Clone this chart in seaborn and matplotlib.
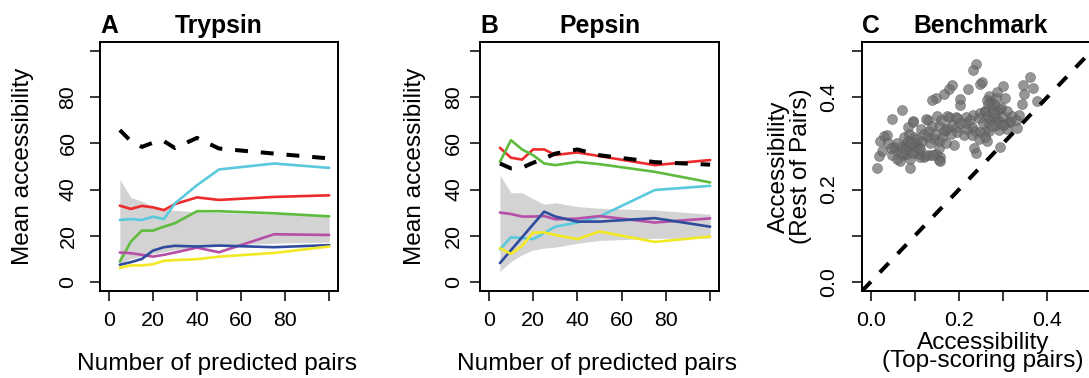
import matplotlib
matplotlib.use("Agg")
import matplotlib.pyplot as plt
import seaborn as sns
import numpy as np
import pandas as pd

# ---------------- data ----------------
n_pairs = [5, 10, 15, 20, 25, 30, 40, 50, 75, 100]
series_names = ["red", "cyan", "green", "magenta", "blue", "yellow"]
series_colors = ["#EE2B2B", "#5BC9DD", "#5FBB3E", "#B64FA8", "#2F4C9E", "#F3E824"]

tryp_black = [65.8, 61.0, 58.5, 60.3, 61.0, 58.0, 62.4, 57.8, 55.6, 53.5]
tryp_red = [33.0, 31.6, 32.9, 32.3, 31.1, 33.7, 36.6, 35.5, 36.8, 37.5]
tryp_cyan = [26.8, 27.2, 26.8, 28.2, 27.2, 34.0, 41.9, 48.7, 51.3, 49.4]
tryp_green = [8.8, 17.4, 22.2, 22.2, 23.9, 25.4, 30.6, 30.6, 29.7, 28.4]
tryp_magenta = [12.7, 12.4, 11.7, 10.9, 11.7, 12.7, 14.8, 12.8, 20.6, 20.3]
tryp_blue = [7.4, 8.5, 9.9, 13.5, 15.0, 15.6, 15.3, 15.7, 15.0, 15.9]
tryp_yellow = [6.1, 7.1, 7.1, 7.6, 9.1, 9.4, 9.8, 10.9, 12.5, 15.3]
tryp_band_hi = [44.5, 36.5, 35.0, 32.5, 31.5, 31.0, 30.3, 30.0, 29.3, 28.8]
tryp_band_lo = [8.0, 10.0, 11.0, 12.0, 13.0, 13.8, 15.0, 15.8, 16.7, 17.2]

peps_black = [51.3, 49.2, 49.5, 51.6, 53.5, 55.6, 57.4, 54.9, 51.9, 50.8]
peps_red = [58.1, 53.8, 53.0, 57.4, 57.4, 55.0, 56.1, 54.5, 50.6, 52.8]
peps_cyan = [14.1, 19.3, 19.0, 18.5, 21.1, 23.9, 25.7, 28.3, 39.8, 41.6]
peps_green = [52.0, 61.4, 57.4, 54.9, 51.3, 50.6, 52.0, 51.0, 47.7, 43.1]
peps_magenta = [30.0, 29.4, 28.3, 28.3, 28.5, 27.1, 27.4, 28.5, 25.7, 27.5]
peps_blue = [8.1, 13.7, 19.3, 24.9, 30.4, 28.3, 26.1, 26.1, 27.6, 23.9]
peps_yellow = [14.6, 12.1, 15.6, 21.3, 21.4, 20.3, 18.5, 21.8, 17.3, 19.6]
peps_band_hi = [46.3, 38.6, 38.6, 36.0, 33.6, 34.3, 32.6, 31.9, 31.1, 29.3]
peps_band_lo = [4.5, 8.8, 11.7, 13.8, 14.6, 15.0, 16.7, 17.9, 18.9, 18.9]

bench_top = [0.239, 0.231, 0.252, 0.248, 0.361, 0.184, 0.178, 0.220, 0.299, 0.345,
             0.369, 0.348, 0.287, 0.305, 0.269, 0.166, 0.148, 0.138, 0.202, 0.202,
             0.263, 0.273, 0.343, 0.376, 0.071, 0.049, 0.096, 0.130, 0.151, 0.178,
             0.196, 0.216, 0.232, 0.248, 0.260, 0.275, 0.286, 0.293, 0.284, 0.290,
             0.271, 0.316, 0.302, 0.291, 0.265, 0.337, 0.331, 0.310, 0.260, 0.269,
             0.030, 0.036, 0.021, 0.075, 0.087, 0.098, 0.113, 0.132, 0.139, 0.154,
             0.166, 0.173, 0.181, 0.196, 0.211, 0.218, 0.229, 0.237, 0.248, 0.026,
             0.019, 0.015, 0.053, 0.060, 0.068, 0.079, 0.090, 0.102, 0.109, 0.117,
             0.128, 0.143, 0.154, 0.162, 0.049, 0.060, 0.074, 0.083, 0.090, 0.098,
             0.109, 0.120, 0.135, 0.149, 0.158, 0.154, 0.090, 0.188, 0.233, 0.239,
             0.263, 0.293, 0.085, 0.096, 0.126, 0.172, 0.194, 0.258, 0.277, 0.313,
             0.283, 0.066, 0.111, 0.126, 0.141, 0.156, 0.080, 0.085, 0.095, 0.100,
             0.105, 0.070, 0.092, 0.112, 0.215, 0.225, 0.245, 0.255, 0.265, 0.280,
             0.285, 0.300, 0.310, 0.320, 0.330, 0.160, 0.170, 0.185, 0.195, 0.205,
             0.120, 0.135, 0.145, 0.155, 0.170, 0.060, 0.045, 0.040, 0.230, 0.245,
             0.260, 0.275, 0.300, 0.295, 0.280, 0.265]
bench_rest = [0.473, 0.460, 0.434, 0.428, 0.445, 0.426, 0.419, 0.419, 0.425, 0.427,
              0.420, 0.407, 0.412, 0.398, 0.402, 0.407, 0.399, 0.394, 0.396, 0.383,
              0.394, 0.389, 0.385, 0.391, 0.372, 0.353, 0.349, 0.351, 0.360, 0.358,
              0.355, 0.358, 0.362, 0.367, 0.371, 0.378, 0.371, 0.374, 0.356, 0.349,
              0.353, 0.347, 0.342, 0.329, 0.346, 0.361, 0.333, 0.331, 0.328, 0.326,
              0.317, 0.318, 0.306, 0.313, 0.320, 0.313, 0.331, 0.328, 0.338, 0.338,
              0.328, 0.333, 0.320, 0.324, 0.318, 0.331, 0.335, 0.326, 0.324, 0.284,
              0.272, 0.247, 0.292, 0.284, 0.292, 0.299, 0.295, 0.302, 0.292, 0.306,
              0.313, 0.310, 0.306, 0.313, 0.274, 0.267, 0.274, 0.277, 0.267, 0.284,
              0.277, 0.270, 0.274, 0.277, 0.270, 0.265, 0.247, 0.297, 0.290, 0.279,
              0.306, 0.293, 0.335, 0.346, 0.353, 0.360, 0.358, 0.371, 0.360, 0.348,
              0.399, 0.263, 0.270, 0.276, 0.274, 0.263, 0.290, 0.305, 0.280, 0.295,
              0.310, 0.280, 0.300, 0.288, 0.345, 0.350, 0.355, 0.345, 0.360, 0.365,
              0.340, 0.360, 0.370, 0.360, 0.350, 0.350, 0.330, 0.340, 0.335, 0.345,
              0.320, 0.300, 0.320, 0.290, 0.300, 0.300, 0.290, 0.300, 0.318, 0.310,
              0.315, 0.338, 0.340, 0.380, 0.385, 0.385]

# ---------------- style ----------------
sns.set_style("ticks")
FONT = ["Liberation Sans", "DejaVu Sans"]
plt.rcParams["font.family"] = FONT
plt.rcParams["text.color"] = "black"
plt.rcParams["axes.labelcolor"] = "black"
plt.rcParams["axes.titlecolor"] = "black"
plt.rcParams["axes.linewidth"] = 1.4
plt.rcParams["xtick.major.size"] = 7.2
plt.rcParams["ytick.major.size"] = 7.2
plt.rcParams["xtick.major.width"] = 1.1
plt.rcParams["ytick.major.width"] = 1.1
plt.rcParams["xtick.color"] = "black"
plt.rcParams["ytick.color"] = "black"
plt.rcParams["xtick.labelcolor"] = "black"
plt.rcParams["ytick.labelcolor"] = "black"
plt.rcParams["axes.edgecolor"] = "black"

TICK_FS = 15.4
LAB_FS = 17.6
TITLE_FS = 17.8

W, H = 1089, 378
fig = plt.figure(figsize=(W / 100, H / 100), dpi=100)


def px_axes(left, right, top, bottom):
    return fig.add_axes([left / W, 1 - bottom / H, (right - left) / W, (bottom - top) / H])


def style_box(ax):
    for s in ["top", "right", "left", "bottom"]:
        ax.spines[s].set_visible(True)
        ax.spines[s].set_color("black")
        ax.spines[s].set_linewidth(1.4)
    ax.tick_params(direction="out", top=False, right=False, colors="black")


def line_panel(ax, black, cols, lo, hi, title, letter, ylab_x, ytick_pad):
    ax.fill_between(n_pairs, lo, hi, color="#D3D3D3", linewidth=0, zorder=1)
    df = pd.DataFrame({
        "n": n_pairs * len(series_names),
        "val": sum(cols, []),
        "series": np.repeat(series_names, len(n_pairs)),
    })
    sns.lineplot(data=df, x="n", y="val", hue="series", hue_order=series_names,
                 palette=series_colors, linewidth=1.9, legend=False, ax=ax,
                 errorbar=None, zorder=3)
    sns.lineplot(x=n_pairs, y=black, color="black", linewidth=2.9,
                 linestyle=(0, (3.2, 3.2)), ax=ax, errorbar=None, zorder=4)
    ax.set_xlim(-4, 104)
    ax.set_ylim(-4, 104)
    ticks = [0, 20, 40, 60, 80, 100]
    labs = ["0", "20", "40", "60", "80", ""]
    ax.set_xticks(ticks)
    ax.set_xticklabels(labs, fontsize=TICK_FS)
    ax.set_yticks(ticks)
    ax.set_yticklabels(labs, fontsize=TICK_FS, rotation=90, va="center")
    ax.tick_params(axis="x", pad=7)
    ax.tick_params(axis="y", pad=ytick_pad)
    ax.set_xlabel("Number of predicted pairs", fontsize=LAB_FS, va="center")
    ax.xaxis.set_label_coords(0.49, -0.293)
    ax.set_ylabel("Mean accessibility", fontsize=LAB_FS, va="center")
    ax.yaxis.set_label_coords(ylab_x, 0.5)
    ax.set_title(title, fontsize=TITLE_FS, fontweight="bold", pad=6.5)
    ax.set_title(letter, fontsize=TITLE_FS, fontweight="bold", loc="left", pad=6.5)
    style_box(ax)


axA = px_axes(100, 338, 42, 291)
line_panel(axA, tryp_black,
           [tryp_red, tryp_cyan, tryp_green, tryp_magenta, tryp_blue, tryp_yellow],
           tryp_band_lo, tryp_band_hi, "Trypsin", "A", (23 - 100) / 238, 9)

axB = px_axes(480, 719, 42, 291)
line_panel(axB, peps_black,
           [peps_red, peps_cyan, peps_green, peps_magenta, peps_blue, peps_yellow],
           peps_band_lo, peps_band_hi, "Pepsin", "B", (415 - 480) / 239, 5)

# ---------------- panel C ----------------
axC = px_axes(862, 1100, 42, 291)
sns.scatterplot(x=bench_top, y=bench_rest, s=52, color="#6a6a6a", alpha=0.7,
                edgecolor="#555555", linewidth=0.4, ax=axC, zorder=3)
axC.axline((0, 0), slope=1, color="black", linewidth=2.9,
           linestyle=(0, (3.2, 3.2)), zorder=4)
axC.set_xlim(-0.02, 0.52)
axC.set_ylim(-0.02, 0.52)
cticks = [0.0, 0.1, 0.2, 0.3, 0.4, 0.5]
clabs = ["0.0", "", "0.2", "", "0.4", ""]
axC.set_xticks(cticks)
axC.set_xticklabels(clabs, fontsize=TICK_FS)
axC.set_yticks(cticks)
axC.set_yticklabels(clabs, fontsize=TICK_FS, rotation=90, va="center")
axC.tick_params(axis="x", pad=7)
axC.tick_params(axis="y", pad=10)
axC.set_xlabel("Accessibility\n(Top-scoring pairs)", fontsize=LAB_FS,
               va="center", linespacing=0.75)
axC.xaxis.set_label_coords((983 - 862) / 238, (291 - 352) / 249)
axC.set_ylabel("Accessibility\n(Rest of Pairs)", fontsize=LAB_FS, va="center",
               linespacing=1.0)
axC.yaxis.set_label_coords((790 - 862) / 238, 0.5)
axC.set_title("Benchmark", fontsize=TITLE_FS, fontweight="bold", pad=6.5)
axC.set_title("C", fontsize=TITLE_FS, fontweight="bold", loc="left", pad=6.5)
style_box(axC)

fig.savefig("out.png", dpi=100)
